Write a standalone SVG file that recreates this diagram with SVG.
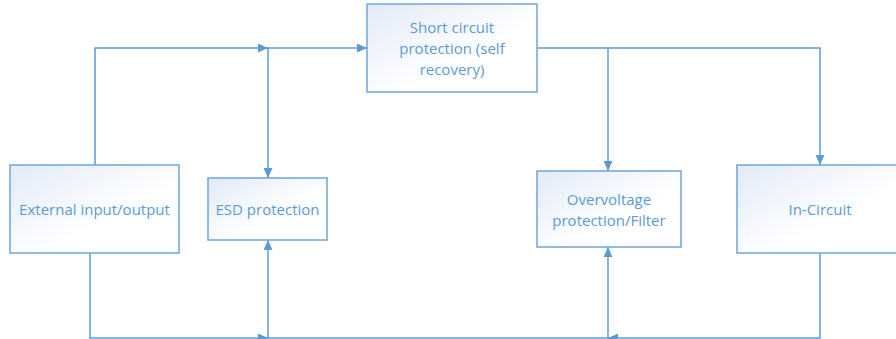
<svg xmlns="http://www.w3.org/2000/svg" width="896" height="339" viewBox="0 0 896 339">
<style>
.box{fill:url(#g);stroke:#6fa5dc;stroke-width:1.5}
.t{font-family:"Open Sans","Liberation Sans",sans-serif;font-size:15px;fill:#5b9bd5;text-anchor:middle;dominant-baseline:central}
.c{fill:none;stroke:#5b9bd5;stroke-width:1.5}
</style>
<defs>
<linearGradient id="g" x1="0" y1="0" x2="1" y2="1">
<stop offset="0" stop-color="#e2eaf7"/>
<stop offset="0.6" stop-color="#ffffff"/>
</linearGradient>
<marker id="a" markerUnits="userSpaceOnUse" markerWidth="11" markerHeight="9" refX="10" refY="4.5" orient="auto">
<path d="M0,0 L10,4.5 L0,9 z" fill="#5b9bd5"/>
</marker>
</defs>
<g id="connectors">
<path class="c" d="M95,165 V48 H268" marker-end="url(#a)"/>
<path class="c" d="M268,48 H367" marker-end="url(#a)"/>
<path class="c" d="M268,48 V178" marker-end="url(#a)"/>
<path class="c" d="M537,48 H820 V165" marker-end="url(#a)"/>
<path class="c" d="M608,48 V171" marker-end="url(#a)"/>
<path class="c" d="M90,253 V338 H268" marker-end="url(#a)"/>
<path class="c" d="M268,338 V240" marker-end="url(#a)"/>
<path class="c" d="M268,338 H608"/>
<path class="c" d="M820,253 V338 H608" marker-end="url(#a)"/>
<path class="c" d="M608,338 V247" marker-end="url(#a)"/>
</g>
<g id="external">
<rect class="box" x="10" y="165" width="169" height="88"/>
<text class="t" x="94.5" y="209">External input/output</text>
</g>
<g id="esd">
<rect class="box" x="208" y="178" width="119" height="62"/>
<text class="t" x="267.5" y="209">ESD protection</text>
</g>
<g id="short">
<rect class="box" x="367" y="4" width="170" height="88"/>
<text class="t" x="452" y="27">Short circuit</text>
<text class="t" x="452" y="48">protection (self</text>
<text class="t" x="452" y="69">recovery)</text>
</g>
<g id="overvoltage">
<rect class="box" x="537" y="171" width="144" height="76"/>
<text class="t" x="609" y="199">Overvoltage</text>
<text class="t" x="609" y="220">protection/Filter</text>
</g>
<g id="incircuit">
<rect class="box" x="737" y="165" width="168" height="88"/>
<text class="t" x="820" y="209">In-Circuit</text>
</g>
</svg>
